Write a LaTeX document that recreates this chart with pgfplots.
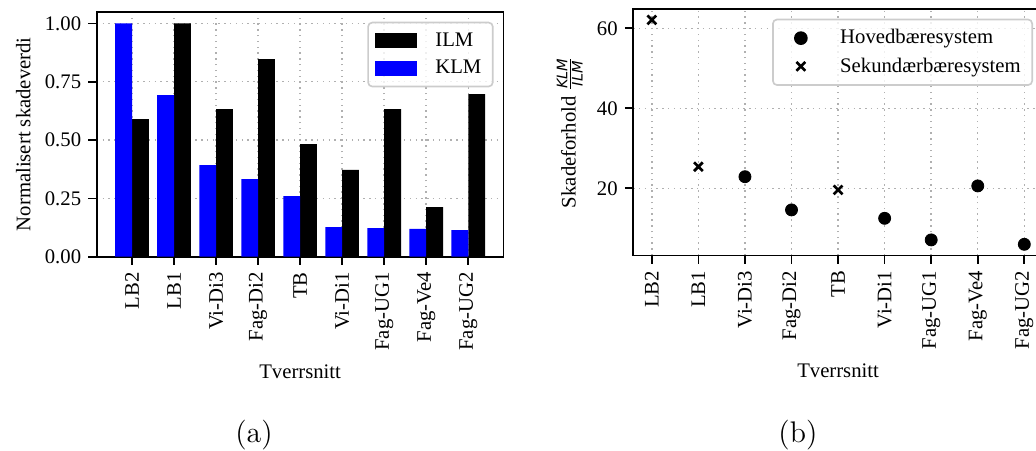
\documentclass[border=0pt]{standalone}
\usepackage{fontspec}
\usepackage{pgfplots}
\pgfplotsset{compat=1.18}
\newfontfamily\tnr{Liberation Serif}
\newfontfamily\dejavu{DejaVu Sans}
\definecolor{gridgray}{RGB}{176,176,176}
\definecolor{legedge}{RGB}{204,204,204}
\pgfplotsset{
  mystyle/.style={
    scale only axis,
    anchor=south west,
    tick pos=left,
    tick align=outside,
    major tick length=4pt,
    every tick/.style={black, line width=0.8pt},
    axis line style={line width=0.9pt},
    grid=major,
    major grid style={gridgray, line width=0.7pt, dash pattern=on 0.7pt off 2.1pt},
    /pgf/number format/assume math mode=true,
    tick label style={font=\tnr},
    label style={font=\tnr},
    xtick={0,1,2,3,4,5,6,7,8},
    xticklabels={LB2,LB1,Vi-Di3,Fag-Di2,TB,Vi-Di1,Fag-UG1,Fag-Ve4,Fag-UG2},
    x tick label style={rotate=90, anchor=east},
    xlabel={Tverrsnitt},
    legend style={
      at={(1,1)}, anchor=north east, xshift=-4.8pt, yshift=-4.8pt,
      font=\tnr, draw=legedge, line width=0.8pt, rounded corners=2pt,
      fill=white, fill opacity=0.8, text opacity=1,
      inner xsep=3.5pt, inner ysep=2.8pt, row sep=1.2pt,
      /tikz/every odd column/.append style={column sep=7pt},
      cells={anchor=west}
    },
  }
}
\begin{document}
\begin{tikzpicture}
\useasboundingbox (0pt,0pt) rectangle (500.39pt,217.35pt);
% (a)
\begin{axis}[mystyle,
  at={(46.71pt,93.36pt)},
  width=196.5pt, height=118.3pt,
  xmin=-0.84, xmax=8.84, ymin=0, ymax=1.05,
  ytick={0,0.25,0.5,0.75,1},
  y tick label style={/pgf/number format/fixed, /pgf/number format/fixed zerofill, /pgf/number format/precision=2},
  ylabel={Normalisert skadeverdi},
  legend image code/.code={\path[#1, draw=none, sharp corners, fill opacity=1] (0pt,-3.6pt) rectangle (20pt,3.6pt);},
]
\addplot[ybar, bar width=0.4, bar shift=0.2, fill=black, draw=none] coordinates {
  (0,0.590) (1,1.000) (2,0.633) (3,0.847) (4,0.483) (5,0.372) (6,0.633) (7,0.213) (8,0.697)};
\addlegendentry{ILM}
\addplot[ybar, bar width=0.4, bar shift=-0.2, fill={rgb,255:red,0;green,0;blue,255}, draw=none] coordinates {
  (0,1.000) (1,0.693) (2,0.393) (3,0.333) (4,0.260) (5,0.127) (6,0.123) (7,0.119) (8,0.114)};
\addlegendentry{KLM}
\end{axis}
% (b)
\begin{axis}[mystyle,
  at={(305.84pt,93.94pt)},
  width=197.9pt, height=119.2pt,
  xmin=-0.4, xmax=8.4, ymin=3.2, ymax=64.9,
  ytick={20,40,60},
  ylabel={Skadeforhold $\frac{\mbox{\dejavu\itshape\fontsize{7}{8}\selectfont KLM}}{\mbox{\dejavu\itshape\fontsize{7}{8}\selectfont ILM}}$},
  legend image code/.code={\path[draw=none, fill=none] (0pt,0pt) -- (20pt,0pt); \path[#1, sharp corners, fill opacity=1, draw opacity=1] plot coordinates {(10pt,0pt)};},
]
\addplot[only marks, mark=*, mark size=2.9pt, black] coordinates {
  (2,22.9) (3,14.6) (5,12.5) (6,7.1) (7,20.6) (8,6.0)};
\addlegendentry{Hovedbæresystem}
\addplot[only marks, mark=x, mark size=3pt, line width=1.3pt, black] coordinates {
  (0,62.1) (1,25.4) (4,19.6)};
\addlegendentry{Sekundærbæresystem}
\end{axis}
\node[anchor=base, font=\fontsize{14.4}{17}\selectfont] at (122.7pt,3.4pt) {(a)};
\node[anchor=base, font=\fontsize{14.4}{17}\selectfont] at (385.4pt,3.4pt) {(b)};
\end{tikzpicture}
\end{document}
